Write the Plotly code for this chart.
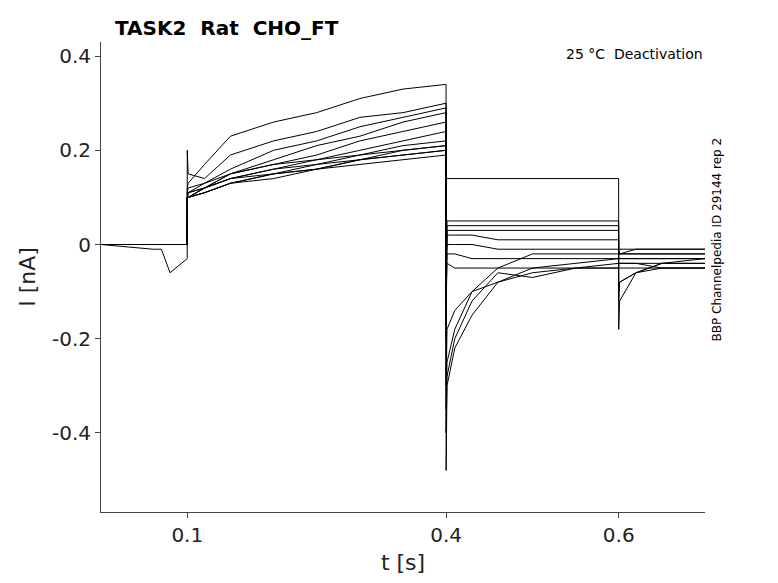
import plotly.graph_objects as go

# shared time base (s)
t = [0, 0.06, 0.07, 0.08, 0.0999, 0.1, 0.101, 0.12, 0.15, 0.2, 0.25, 0.3, 0.35, 0.3999,
     0.4, 0.401, 0.41, 0.43, 0.46, 0.5, 0.55, 0.5999, 0.6, 0.601, 0.62, 0.65, 0.7]

# current traces (nA)
traces = [
    [0, 0, 0, 0, 0, 0.12, 0.13, 0.17, 0.23, 0.26, 0.28, 0.31, 0.33, 0.34,
     0.14, 0.14, 0.14, 0.14, 0.14, 0.14, 0.14, 0.14, -0.01, -0.02, -0.01, -0.01, -0.01],
    [0, 0, 0, 0, 0, 0.2, 0.15, 0.14, 0.19, 0.22, 0.24, 0.27, 0.28, 0.3,
     -0.48, -0.3, -0.22, -0.15, -0.08, -0.05, -0.04, -0.03, -0.18, -0.12, -0.06, -0.04, -0.03],
    [0, -0.01, -0.01, -0.06, -0.03, 0.11, 0.12, 0.13, 0.16, 0.2, 0.22, 0.25, 0.27, 0.29,
     -0.4, -0.28, -0.2, -0.12, -0.06, -0.07, -0.05, -0.04, -0.12, -0.08, -0.06, -0.04, -0.04],
    [0, 0, 0, 0, 0, 0.1, 0.11, 0.13, 0.15, 0.18, 0.21, 0.23, 0.26, 0.28,
     -0.35, -0.25, -0.18, -0.1, -0.05, -0.02, -0.02, -0.02, -0.02, -0.02, -0.02, -0.02, -0.02],
    [0, 0, 0, 0, 0, 0.1, 0.11, 0.12, 0.15, 0.17, 0.19, 0.22, 0.24, 0.26,
     -0.2, 0.05, 0.05, 0.05, 0.05, 0.05, 0.05, 0.05, -0.01, -0.01, -0.01, -0.01, -0.01],
    [0, 0, 0, 0, 0, 0.1, 0.11, 0.12, 0.15, 0.17, 0.18, 0.2, 0.22, 0.24,
     -0.15, 0.04, 0.04, 0.04, 0.04, 0.04, 0.04, 0.04, -0.02, -0.02, -0.02, -0.02, -0.02],
    [0, 0, 0, 0, 0, 0.1, 0.1, 0.12, 0.14, 0.16, 0.18, 0.19, 0.21, 0.22,
     -0.1, 0.03, 0.03, 0.03, 0.03, 0.03, 0.03, 0.03, -0.03, -0.03, -0.03, -0.03, -0.03],
    [0, 0, 0, 0, 0, 0.1, 0.1, 0.12, 0.14, 0.16, 0.17, 0.19, 0.2, 0.21,
     -0.05, 0.02, 0.02, 0.02, 0.01, 0.01, 0.01, 0.01, -0.03, -0.03, -0.03, -0.03, -0.03],
    [0, 0, 0, 0, 0, 0.1, 0.1, 0.12, 0.14, 0.15, 0.17, 0.18, 0.19, 0.2,
     -0.02, 0.0, 0.0, 0.0, -0.01, -0.01, -0.01, -0.01, -0.04, -0.04, -0.04, -0.04, -0.04],
    [0, 0, 0, 0, 0, 0.1, 0.1, 0.11, 0.13, 0.15, 0.16, 0.18, 0.19, 0.2,
     -0.08, -0.02, -0.02, -0.03, -0.03, -0.03, -0.03, -0.03, -0.05, -0.05, -0.05, -0.05, -0.05],
    [0, 0, 0, 0, 0, 0.1, 0.1, 0.11, 0.13, 0.14, 0.16, 0.17, 0.18, 0.19,
     -0.12, -0.04, -0.05, -0.05, -0.05, -0.05, -0.05, -0.05, -0.04, -0.04, -0.04, -0.05, -0.05],
    [0, 0, 0, 0, 0, 0.1, 0.1, 0.11, 0.13, 0.15, 0.16, 0.18, 0.2, 0.21,
     -0.3, -0.18, -0.14, -0.1, -0.08, -0.06, -0.05, -0.05, -0.1, -0.08, -0.06, -0.05, -0.05],
]

fig = go.Figure()
for y in traces:
    fig.add_trace(go.Scatter(x=t, y=y, mode='lines',
                             line=dict(color='black', width=1), showlegend=False))

axis_style = dict(showline=True, linecolor='#444', linewidth=1, ticks='outside',
                  ticklen=5, tickcolor='#444', showgrid=False, zeroline=False,
                  tickfont=dict(size=20, color='#222'), mirror=False)

fig.update_xaxes(range=[0, 0.7], tickvals=[0.1, 0.4, 0.6], ticktext=['0.1', '0.4', '0.6'],
                 title=dict(text='t [s]', font=dict(size=22, color='#222'), standoff=8),
                 **axis_style)
fig.update_yaxes(range=[-0.568, 0.43], tickvals=[-0.4, -0.2, 0, 0.2, 0.4],
                 ticktext=['-0.4', '-0.2', '0', '0.2', '0.4'],
                 title=dict(text='I [nA]', font=dict(size=22, color='#222'), standoff=10),
                 **axis_style)

fig.update_layout(
    width=778, height=583,
    margin=dict(l=93, r=81, t=34, b=79),
    paper_bgcolor='white', plot_bgcolor='white',
    font=dict(family='DejaVu Sans'),
    annotations=[
        dict(text='<b>TASK2  Rat  CHO_FT</b>', xref='paper', yref='paper', x=0.02, y=1.0,
             xanchor='left', yanchor='bottom', showarrow=False, font=dict(size=20, color='black')),
        dict(text='25 °C  Deactivation', xref='paper', yref='paper', x=1.0, y=0.995,
             xanchor='right', yanchor='top', showarrow=False, font=dict(size=14, color='black')),
        dict(text='BBP Channelpedia ID 29144 rep 2', xref='paper', yref='paper', x=1.02, y=0.58,
             xanchor='center', yanchor='middle', textangle=-90, showarrow=False,
             font=dict(size=12, color='black')),
    ],
)

fig.write_html('out.html')
